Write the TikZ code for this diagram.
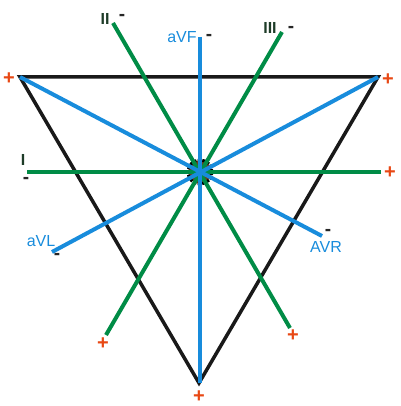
\documentclass[tikz,border=0pt]{standalone}
\usepackage{fontspec}
\setmainfont{Liberation Sans}
\definecolor{leadgreen}{RGB}{0, 140, 70}
\definecolor{leadblue}{RGB}{24, 140, 220}
\definecolor{darkgreen}{RGB}{30, 60, 40}
\definecolor{plusred}{RGB}{232, 72, 20}
\definecolor{hubbrown}{RGB}{110, 60, 30}
\usetikzlibrary{positioning}

\begin{document}
\begin{tikzpicture}[x=1pt, y=-1pt,
  tri/.style={draw=black!90, line width=3.5pt, line join=miter},
  limb/.style={draw=leadgreen, line width=4pt},
  aug/.style={draw=leadblue, line width=4pt},
  pluslbl/.style={text=plusred, font=\fontsize{20}{20}\selectfont\bfseries, inner sep=0pt},
  minuslbl/.style={text=black!85, font=\fontsize{19}{19}\selectfont\bfseries, inner sep=0pt},
  limblbl/.style={text=darkgreen, font=\fontsize{16}{16}\selectfont\bfseries, inner sep=0pt},
  auglbl/.style={text=leadblue, font=\fontsize{16}{16}\selectfont, inner sep=0pt}
]
  \useasboundingbox (0,0) rectangle (400,406);

  % -- triangle corners and lead ends --
  \coordinate (tl)  at (20,77);
  \coordinate (tr)  at (378,77);
  \coordinate (bt)  at (199,383);
  \coordinate (hub) at (200,172);
  \coordinate (iN)   at (27,172);   \coordinate (iP)   at (381,172);
  \coordinate (iiN)  at (113,23);   \coordinate (iiP)  at (290,328);
  \coordinate (iiiN) at (282,32);   \coordinate (iiiP) at (106,335);
  \coordinate (avfN) at (200,37);   \coordinate (avfP) at (200,383);
  \coordinate (avlN) at (52,252);
  \coordinate (avrN) at (322,236);

  % -- Einthoven triangle --
  \draw[tri] (tl) -- (tr) -- (bt) -- cycle;

  % -- centre --
  \fill[hubbrown] (hub) circle (12);
  \draw[black, line width=3pt, dash pattern=on 3pt off 1.5pt] (hub) circle (12);

  % -- leads --
  \draw[limb] (iN) -- (iP);
  \draw[limb] (iiN) -- (iiP);
  \draw[limb] (iiiN) -- (iiiP);
  \draw[aug] (avfN) -- (avfP);
  \draw[aug] (tr) -- (avlN);
  \draw[aug] (tl) -- (avrN);

  % -- labels --
  \node[limblbl]  (iiL)   at (105,19)  {II};
  \node[minuslbl] (iiM)   at (122,17)  {-};
  \node[limblbl]  (iiiL)  at (270,28)  {III};
  \node[minuslbl] (iiiM)  at (291,29)  {-};
  \node[auglbl]   (avfL)  at (182,37)  {aVF};
  \node[minuslbl] (avfM)  at (209,37)  {-};
  \node[limblbl]  (iL)    at (23,160)  {I};
  \node[minuslbl] (iM)    at (26,180)  {-};
  \node[auglbl]   (avlL)  at (41,241)  {aVL};
  \node[minuslbl] (avlM)  at (57,256)  {-};
  \node[auglbl]   (avrL)  at (326,247) {AVR};
  \node[minuslbl] (avrM)  at (328,232) {-};

  % -- positive poles --
  \node[pluslbl] (tlP)   at (9,79)    {+};
  \node[pluslbl] (trP)   at (388,80)  {+};
  \node[pluslbl] (iPl)   at (390,173) {+};
  \node[pluslbl] (iiPl)  at (293,336) {+};
  \node[pluslbl] (iiiPl) at (103,344) {+};
  \node[pluslbl] (btP)   at (199,397) {+};
\end{tikzpicture}
\end{document}
